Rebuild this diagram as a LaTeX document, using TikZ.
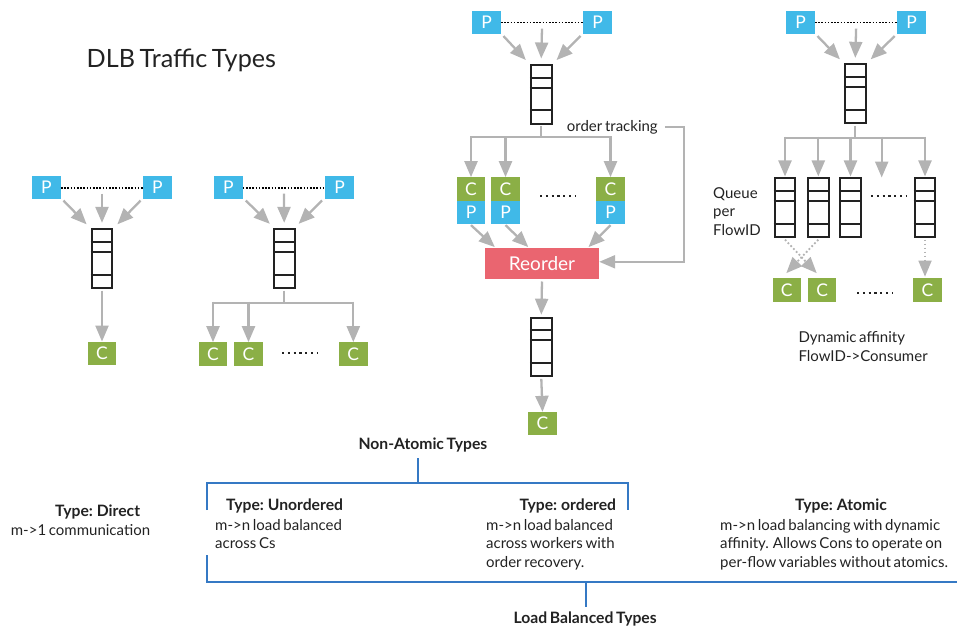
\documentclass[tikz,border=0pt]{standalone}
\usepackage{fontspec}
\setmainfont{Lato}[WordSpace=0.7]
\usetikzlibrary{arrows.meta,calc}
\definecolor{pblue}{HTML}{40B9E8}
\definecolor{cgreen}{HTML}{8BAF46}
\definecolor{rred}{HTML}{EA6570}
\definecolor{agray}{HTML}{B3B3B3}
\definecolor{bblue}{HTML}{3579C4}
\definecolor{tgray}{HTML}{222222}
\definecolor{qblack}{HTML}{222222}
\newcommand{\dlbqueue}[3]{%
  \node[queue] (#1) at (#2,#3) {};
  \foreach \d in {13.6,23.6,46.2}
    \draw[qin] ([yshift=-\d pt]#1.north west) -- ([yshift=-\d pt]#1.north east);
}
\begin{document}
\begin{tikzpicture}[x=1pt,y=-1pt,
  pbox/.style={fill=pblue, text=white, minimum width=28.5pt, minimum height=23.3pt, inner sep=0pt, font=\fontsize{17.5}{17.5}\selectfont},
  cbox/.style={pbox, fill=cgreen},
  queue/.style={draw=qblack, line width=2pt, minimum width=20.7pt, minimum height=58.7pt, inner sep=0pt},
  qin/.style={draw=qblack, line width=2pt},
  arr/.style={draw=agray, line width=2.3pt, -{Triangle[length=16pt,width=13pt]}},
  gline/.style={draw=agray, line width=2.3pt},
  darr/.style={arr, line width=1.8pt, dash pattern=on 1.8pt off 2.2pt},
  pdots/.style={draw=black, line width=1.6pt, dash pattern=on 1.6pt off 1.6pt},
  dotsrow/.style={draw=tgray, line width=2.2pt, dash pattern=on 2.2pt off 3.6pt},
  bline/.style={draw=bblue, line width=2.2pt},
  txt/.style={text=tgray, inner sep=0pt, anchor=north west, align=left, font=\fontsize{15}{18.4}\selectfont},
  btxt/.style={txt, font=\fontsize{15.7}{18.4}\selectfont\bfseries},
]
\useasboundingbox (0,0) rectangle (957,626);

% title
\node[txt, font=\fontsize{25.2}{28}\selectfont] (title) at (86.5,49) {DLB Traffic Types};

% ---------- Direct ----------
\node[pbox] (d-pl) at (46.5,187.7) {P};
\node[pbox] (d-pr) at (157.5,187.7) {P};
\dlbqueue{d-q}{102}{258.7}
\node[cbox] (d-c) at (102,353.4) {C};
\draw[pdots] (d-pl.east) -- (d-pr.west);
\draw[arr] ([shift={(2.5,1)}]d-pl.south east) -- ([shift={(-4,-4)}]d-q.north west);
\draw[arr] ($(d-pl)!.5!(d-pr)+(0,6)$) -- ([shift={(0,-5.5)}]d-q.north);
\draw[arr] ([shift={(-2.5,1)}]d-pr.south west) -- ([shift={(4,-4)}]d-q.north east);
\draw[arr] ([shift={(0,1.5)}]d-q.south) -- (d-c.north);

% ---------- Unordered ----------
\node[pbox] (u-pl) at (228.3,187.7) {P};
\node[pbox] (u-pr) at (339.5,187.7) {P};
\dlbqueue{u-q}{284.2}{258.7}
\node[cbox] (u-c1) at (213,354) {C};
\node[cbox] (u-c2) at (248.5,354) {C};
\node[cbox] (u-c3) at (353.3,354) {C};
\draw[pdots] (u-pl.east) -- (u-pr.west);
\draw[arr] ([shift={(3,1)}]u-pl.south east) -- ([shift={(-3,-4.5)}]u-q.north west);
\draw[arr] ($(u-pl)!.5!(u-pr)+(0,6)$) -- ([shift={(0,-5.5)}]u-q.north);
\draw[arr] ([shift={(-3,1)}]u-pr.south west) -- ([shift={(3,-4.5)}]u-q.north east);
\coordinate (u-bus) at (284.2,302.7);
\draw[gline] ([shift={(0,1.5)}]u-q.south) -- (u-bus);
\draw[gline] (u-c1.north |- u-bus) -- (u-c3.north |- u-bus);
\foreach \c in {u-c1,u-c2,u-c3}
  \draw[arr] ([shift={(0,-1.1)}]\c.north |- u-bus) -- (\c.north);
\draw[dotsrow] (282,353) -- (317,353);

% ---------- Ordered ----------
\node[pbox] (o-pl) at (486.5,22.7) {P};
\node[pbox] (o-pr) at (597.5,22.7) {P};
\dlbqueue{o-q}{541.2}{94.4}
\draw[pdots] (o-pl.east) -- (o-pr.west);
\draw[arr] ([shift={(2.5,1.5)}]o-pl.south east) -- ([shift={(-4,-4)}]o-q.north west);
\draw[arr] ($(o-pl)!.5!(o-pr)+(0,6)$) -- ([shift={(0,-5.5)}]o-q.north);
\draw[arr] ([shift={(-2.5,1.5)}]o-pr.south west) -- ([shift={(4,-4)}]o-q.north east);
\node[cbox] (o-c1) at (471,189) {C};
\node[pbox] (o-p1) at (471,212.3) {P};
\node[cbox] (o-c2) at (505.5,189) {C};
\node[pbox] (o-p2) at (505.5,212.3) {P};
\node[cbox] (o-c3) at (610.5,189) {C};
\node[pbox] (o-p3) at (610.5,212.3) {P};
\coordinate (o-bus) at (541.2,137.3);
\draw[gline] ([shift={(0,1.5)}]o-q.south) -- (o-bus);
\draw[gline] (o-c1.north |- o-bus) -- (o-c3.north |- o-bus);
\foreach \c in {o-c1,o-c2,o-c3}
  \draw[arr] ([shift={(0,-1.1)}]\c.north |- o-bus) -- (\c.north);
\draw[dotsrow] (540,196) -- (575,196);
\node[fill=rred, text=white, minimum width=114pt, minimum height=31pt, inner sep=0pt, font=\fontsize{19}{19}\selectfont] (reorder) at (542,263.8) {Reorder};
\draw[arr] ([shift={(0,1)}]o-p1.south) -- ([shift={(10,-1)}]reorder.north west);
\draw[arr] ([shift={(0,1)}]o-p2.south) -- ([shift={(-13.7,-1)}]reorder.north);
\draw[arr] ([shift={(0,1)}]o-p3.south) -- ([shift={(-10.7,-1)}]reorder.north east);
\node[txt] (ot) at (566.7,120) {order tracking};
\draw[arr] ([xshift=7pt]ot.east) -- ++(19,0) |- ([shift={(0,-2)}]reorder.east);
\dlbqueue{o-q2}{541.3}{347}
\node[cbox] (o-c) at (542.5,423.7) {C};
\draw[arr] ([shift={(0,2)}]reorder.south) -- ([shift={(0,-2)}]o-q2.north);
\draw[arr] ([shift={(0,1.5)}]o-q2.south) -- (o-c.north);

% ---------- Atomic ----------
\node[pbox] (a-pl) at (800.5,22.7) {P};
\node[pbox] (a-pr) at (911.7,22.7) {P};
\dlbqueue{a-q}{855.3}{93.7}
\draw[pdots] (a-pl.east) -- (a-pr.west);
\draw[arr] ([shift={(2.5,1.5)}]a-pl.south east) -- ([shift={(-4,-4)}]a-q.north west);
\draw[arr] ($(a-pl)!.5!(a-pr)+(0,6)$) -- ([shift={(0,-5.5)}]a-q.north);
\draw[arr] ([shift={(-2.5,1.5)}]a-pr.south west) -- ([shift={(4,-4)}]a-q.north east);
\dlbqueue{a-f1}{785}{207.8}
\dlbqueue{a-f2}{818.3}{207.8}
\dlbqueue{a-f3}{850.5}{207.8}
\dlbqueue{a-f4}{925}{207.8}
\coordinate (a-x4) at (881.7,177.5);
\coordinate (a-bus) at (855.3,137.7);
\draw[gline] ([shift={(0,1.5)}]a-q.south) -- (a-bus);
\draw[gline] (a-f1.north |- a-bus) -- (a-f4.north |- a-bus);
\foreach \c in {a-f1,a-f2,a-f3,a-f4}
  \draw[arr] ([shift={(0,-1.1)}]\c.north |- a-bus) -- ([shift={(0,-1)}]\c.north);
\draw[arr] ([shift={(0,-1.1)}]a-x4 |- a-bus) -- (a-x4);
\draw[dotsrow] (871,196) -- (906,196);
\node[txt] (qpf) at (713,187.5) {Queue\\per\\FlowID};
\node[cbox] (a-c1) at (786.8,290) {C};
\node[cbox] (a-c2) at (822.2,290) {C};
\node[cbox] (a-c3) at (927.5,290) {C};
\draw[darr] ([shift={(0,1.5)}]a-f1.south) -- ([shift={(-5.5,-5)}]a-c2.north);
\draw[darr] ([shift={(0,1.5)}]a-f2.south) -- ([shift={(-0.5,-5)}]a-c1.north);
\draw[darr] ([shift={(0,1.5)}]a-f4.south) -- ([shift={(-2.5,-1.5)}]a-c3.north);
\draw[dotsrow] (857,292.7) -- (892,292.7);
\node[txt] (dyn) at (798.3,331.5) {Dynamic affinity\\FlowID->Consumer};

% ---------- bottom labels ----------
\node[btxt] (nat) at (358.3,438) {Non-Atomic Types};
\coordinate (nub1) at (417.7,483.3);
\draw[bline] (nub1) -- ++(0,-25);
\draw[bline] (206.7,510) -- (206.7,483.3) -- (628.3,483.3) -- (628.3,510);
\draw[bline] (206.7,555) -- (206.7,582.3) -- (957,582.3);
\coordinate (nub2) at (586,582.3);
\draw[bline] (nub2) -- ++(0,24.5);
\node[btxt] (lbt) at (513.3,612) {Load Balanced Types};

\node[btxt] (tdir) at (55,505) {Type: Direct};
\node[txt] (ddir) at (10.7,524.5) {m->1 communication};
\node[btxt] (tun) at (226,499) {Type: Unordered};
\node[txt] (dun) at (215,519) {m->n load balanced\\across Cs};
\node[btxt] (tor) at (519.3,499) {Type: ordered};
\node[txt] (dor) at (486,519) {m->n load balanced\\across workers with\\order recovery.};
\node[btxt] (tat) at (795,499) {Type: Atomic};
\node[txt] (dat) at (720,519) {m->n load balancing with dynamic\\affinity. Allows Cons to operate on\\per-flow variables without atomics.};
\end{tikzpicture}
\end{document}
